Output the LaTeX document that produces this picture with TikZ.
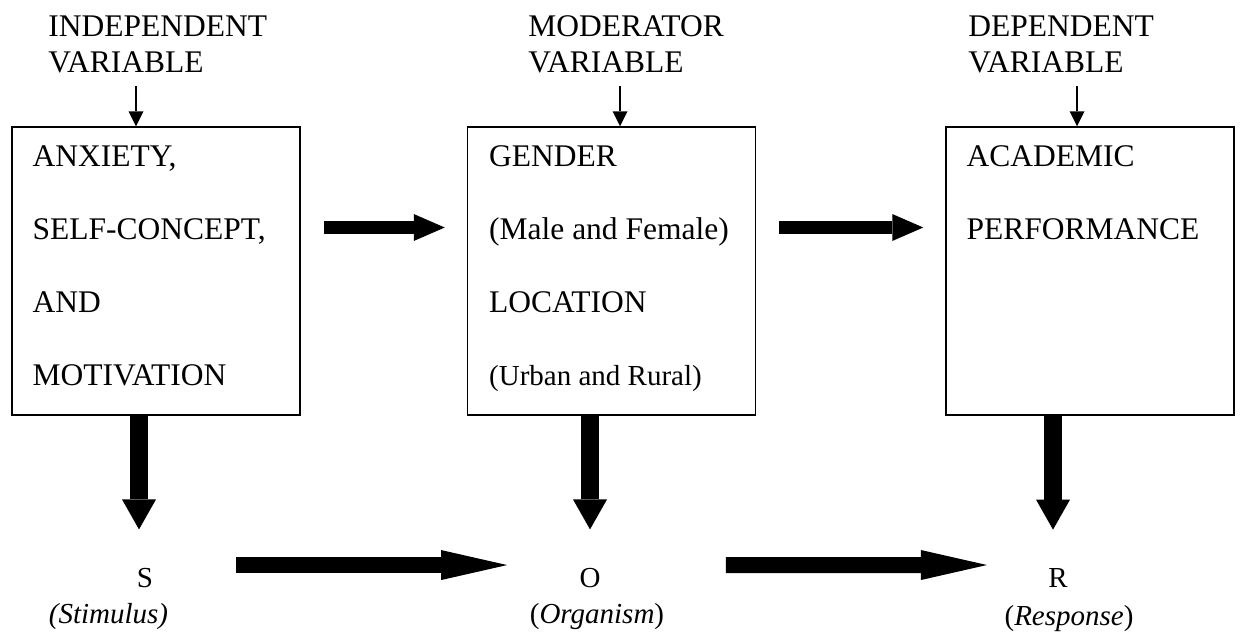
\documentclass[tikz,border=0pt]{standalone}
\usepackage{fontspec}
\setmainfont{Liberation Serif}
\usetikzlibrary{arrows.meta}
\newcommand{\bigfont}{\fontsize{15.75}{18}\selectfont}
\newcommand{\smallfont}{\fontsize{14.5}{17}\selectfont}
\tikzset{
	box/.style={draw, line width=0.75pt, minimum width=144pt, minimum height=144pt, inner sep=0pt},
	boxtext/.style={anchor=base west, inner sep=0pt, font=\bigfont},
	head/.style={align=left, anchor=south west, inner sep=0pt, font=\bigfont},
	sor/.style={anchor=base, inner sep=0pt, font=\smallfont},
	thinarrow/.style={line width=0.75pt, -{Triangle[length=7.5pt,width=7.5pt,line width=0pt]}},
	linkarrow/.style={line width=6.5pt, -{Triangle[length=15.5pt,width=13.5pt,line width=0pt]}},
	downarrow/.style={line width=9pt, shorten >=19pt, -{Triangle[length=15pt,width=17pt,line width=0pt]}},
	flowarrow/.style={line width=8pt, -{Triangle[length=33pt,width=15pt,line width=0pt]}}
}

\begin{document}
\begin{tikzpicture}[x=0.5pt, y=-0.5pt]
	\useasboundingbox (0,0) rectangle (1240,633);

	\node[head] (h1) at (48,73) {INDEPENDENT\\VARIABLE};
	\node[head] (h2) at (528,73) {MODERATOR\\VARIABLE};
	\node[head] (h3) at (968,73) {DEPENDENT\\VARIABLE};

	\node[box] (b1) at (156,271) {};
	\node[box] (b2) at (611.5,271) {};
	\node[box] (b3) at (1090,271) {};

	\foreach \txt [count=\i] in {{ANXIETY,},{SELF-CONCEPT,},{AND},{MOTIVATION}} {
		\pgfmathsetmacro{\dy}{40+73*(\i-1)}
		\node[boxtext] (a\i) at ([shift={(21,\dy)}]b1.north west) {\txt};
	}
	\foreach \txt [count=\i] in {{GENDER},{(Male and Female)},{LOCATION},{\smallfont (Urban and Rural)}} {
		\pgfmathsetmacro{\dy}{40+73*(\i-1)}
		\node[boxtext] (m\i) at ([shift={(22,\dy)}]b2.north west) {\txt};
	}
	\foreach \txt [count=\i] in {{ACADEMIC},{PERFORMANCE}} {
		\pgfmathsetmacro{\dy}{40+73*(\i-1)}
		\node[boxtext] (d\i) at ([shift={(21,\dy)}]b3.north west) {\txt};
	}

	\draw[thinarrow] ([shift={(-20,-40)}]b1.north) -- ([shift={(-20,0)}]b1.north);
	\draw[thinarrow] ([shift={(8.5,-40)}]b2.north) -- ([shift={(8.5,0)}]b2.north);
	\draw[thinarrow] ([shift={(-13,-40)}]b3.north) -- ([shift={(-13,0)}]b3.north);

	\draw[linkarrow] ([shift={(23,-43.5)}]b1.east) -- ([shift={(-22,-43.5)}]b2.west);
	\draw[linkarrow] ([shift={(23,-43.5)}]b2.east) -- ([shift={(-22,-43.5)}]b3.west);

	\node[sor] (s) at (145,587) {S};
	\node[sor] (o) at (590,587) {O};
	\node[sor] (r) at (1058,587) {R};
	\node[sor] (sl) at (108.5,623) {\itshape (Stimulus)};
	\node[sor] (ol) at (597,623) {(\textit{Organism})};
	\node[sor] (rl) at (1069,625) {(\textit{Response})};

	\draw[downarrow] ([shift={(-6,0)}]b1.south -| s.north) -- ([shift={(-6,0)}]s.north);
	\draw[downarrow] (b2.south -| o.north) -- (o.north);
	\draw[downarrow] ([shift={(-5,0)}]b3.south -| r.north) -- ([shift={(-5,0)}]r.north);

	\draw[flowarrow] ([shift={(83,-12.5)}]s.east) -- ([shift={(-72,-12.5)}]o.west);
	\draw[flowarrow] ([shift={(125,-12.5)}]o.east) -- ([shift={(-61,-12.5)}]r.west);
\end{tikzpicture}
\end{document}
